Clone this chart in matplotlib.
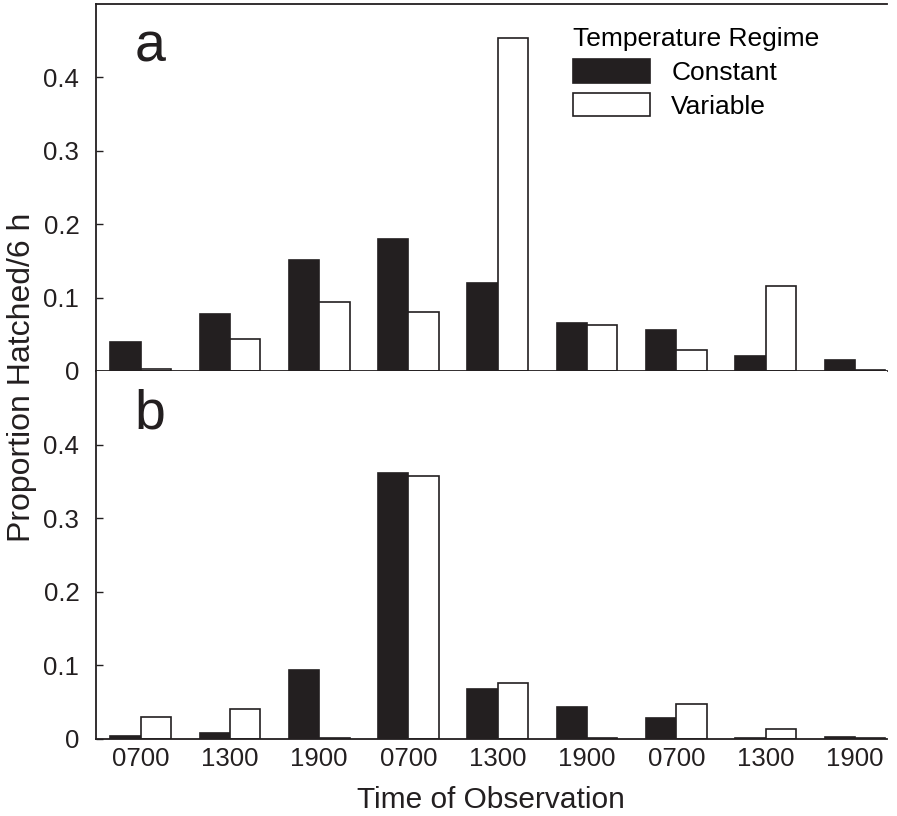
import numpy as np
import matplotlib
matplotlib.use("Agg")
from matplotlib import pyplot as plt

plt.rcParams["font.family"] = ["Liberation Sans", "DejaVu Sans"]

times = ["0700", "1300", "1900", "0700", "1300", "1900", "0700", "1300", "1900"]

# panel a
a_constant = [0.039, 0.078, 0.151, 0.180, 0.120, 0.066, 0.056, 0.021, 0.015]
a_variable = [0.003, 0.043, 0.094, 0.081, 0.453, 0.063, 0.028, 0.116, 0.002]

# panel b
b_constant = [0.004, 0.008, 0.094, 0.362, 0.068, 0.044, 0.029, 0.001, 0.003]
b_variable = [0.030, 0.041, 0.001, 0.358, 0.076, 0.001, 0.048, 0.013, 0.001]

black = "#231f20"
width = 0.34

fig = plt.figure(figsize=(8.97, 8.16), dpi=100)
left, right = 96 / 897, 887 / 897
ax_a = fig.add_axes([left, 1 - 371 / 816, right - left, (371 - 4) / 816])
ax_b = fig.add_axes([left, 1 - 739 / 816, right - left, (739 - 371) / 816], sharex=ax_a)

x = np.arange(len(times))
for ax, const, var, letter in [(ax_a, a_constant, a_variable, "a"), (ax_b, b_constant, b_variable, "b")]:
    ax.bar(x - width / 2, const, width, color=black, edgecolor=black, linewidth=1.2, label="Constant")
    ax.bar(x + width / 2, var, width, color="white", edgecolor=black, linewidth=1.2, label="Variable")
    ax.set_ylim(0, 0.5)
    ax.set_xlim(-0.5, 8.36)
    ax.set_yticks([0, 0.1, 0.2, 0.3, 0.4])
    ax.set_yticklabels(["0", "0.1", "0.2", "0.3", "0.4"])
    ax.tick_params(axis="y", direction="in", length=5, width=1, pad=12, labelsize=18.5, colors=black)
    ax.tick_params(axis="x", length=0, pad=6, labelsize=18.5, colors=black)
    ax.spines["right"].set_visible(False)
    for s in ["left", "top", "bottom"]:
        ax.spines[s].set_linewidth(1.3)
        ax.spines[s].set_color(black)
    ax.text(-0.07, 0.422, letter, fontsize=40, color=black, ha="left", va="baseline")

ax_b.spines["top"].set_visible(False)
ax_a.tick_params(axis="x", labelbottom=False)
ax_b.set_xticks(x)
ax_b.set_xticklabels(times)

leg = ax_a.legend(
    title="Temperature Regime",
    loc="upper left",
    bbox_to_anchor=(573 / 897, 1 - 27 / 816),
    bbox_transform=fig.transFigure,
    frameon=False,
    fontsize=19,
    title_fontsize=19,
    handlelength=2.92,
    handleheight=1.0,
    handletextpad=0.8,
    labelspacing=0.3,
    borderpad=0,
    borderaxespad=0,
    alignment="left",
)

fig.text(22 / 897, 1 - 377 / 816, "Proportion Hatched/6 h", rotation=90,
         ha="center", va="center", fontsize=23, color=black)
fig.text(491 / 897, 1 - 800 / 816, "Time of Observation",
         ha="center", va="center", fontsize=21.5, color=black)

fig.savefig("out.png", dpi=100)
